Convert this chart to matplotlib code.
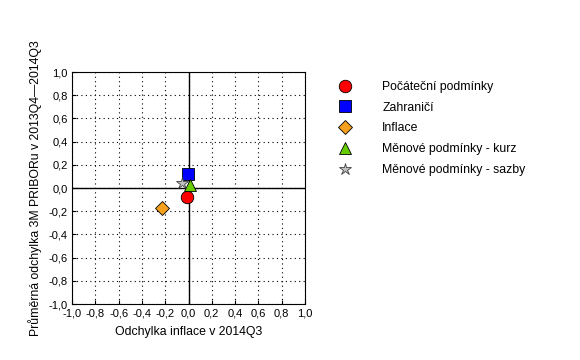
import matplotlib
matplotlib.use("Agg")
import matplotlib.pyplot as plt
import numpy as np

plt.rcParams['font.family'] = ['Liberation Sans', 'DejaVu Sans']

labels = ["Počáteční podmínky", "Zahraničí", "Inflace",
          "Měnové podmínky - kurz", "Měnové podmínky - sazby"]
x_vals = [-0.01, -0.002, -0.225, 0.013, -0.053]
y_vals = [-0.075, 0.12, -0.175, 0.026, 0.04]
markers = ['o', 's', 'D', '^', '*']
colors = ['#ff0000', '#0000ff', '#f5a01e', '#66cc00', '#c0c0c0']
sizes = [9, 8, 7, 9, 9]
ticks = np.round(np.arange(-1.0, 1.01, 0.2), 1)
tick_labels = [f"{t:.1f}".replace('.', ',').replace('-0,0', '0,0') for t in ticks]

fig = plt.figure(figsize=(5.8, 3.6), dpi=100)
ax = fig.add_axes([72/580, 1-304/360, (305-72)/580, (304-72)/360])
ax.set_xlim(-1, 1)
ax.set_ylim(-1, 1)
ax.set_xticks(ticks)
ax.set_yticks(ticks)
ax.set_xticklabels(tick_labels, fontsize=8)
ax.set_yticklabels(tick_labels, fontsize=8)
ax.tick_params(direction='in', length=3, width=0.8, top=False, right=False)
ax.tick_params(axis='x', pad=3.5)
ax.tick_params(axis='y', pad=3)
ax.grid(True, color='black', linestyle=(0, (1, 3)), linewidth=0.8)
ax.axhline(0, color='black', linewidth=1)
ax.axvline(0, color='black', linewidth=1)
for s in ax.spines.values():
    s.set_linewidth(0.8)

handles = []
for xv, yv, m, c, s, lab in zip(x_vals, y_vals, markers, colors, sizes, labels):
    h, = ax.plot([xv], [yv], linestyle='none', marker=m, color=c,
                 markeredgecolor='black' if m != '*' else '#404040',
                 markeredgewidth=0.6, markersize=s, label=lab, zorder=3)
    handles.append(h)

ax.set_xlabel("Odchylka inflace v 2014Q3", fontsize=8.8, labelpad=5)
ax.set_ylabel("Průměrná odchylka 3M PRIBORu v 2013Q4\u20142014Q3", fontsize=8.8, labelpad=5)

fig.legend(handles=handles, loc='upper left', bbox_to_anchor=(331/580, 1-76/360),
           frameon=False, fontsize=8.8, handletextpad=2.3, labelspacing=0.72,
           borderaxespad=0, handlelength=1.5)

fig.savefig("out.png", dpi=100)
